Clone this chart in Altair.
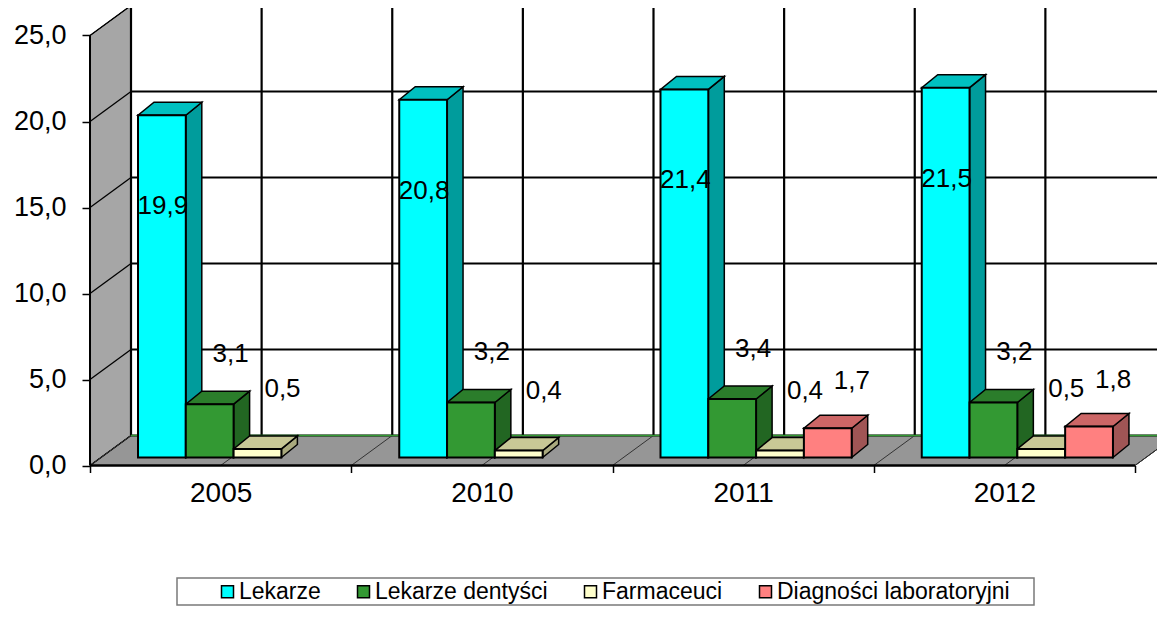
import json
import altair as alt
import pandas as pd

# ---------------- data ----------------
years = ["2005", "2010", "2011", "2012"]
series = ["Lekarze", "Lekarze dentyści", "Farmaceuci", "Diagności laboratoryjni"]
lekarze = [19.9, 20.8, 21.4, 21.5]
dentysci = [3.1, 3.2, 3.4, 3.2]
farmaceuci = [0.5, 0.4, 0.4, 0.5]
diagnosci = [None, None, 1.7, 1.8]
y_ticks = [0, 5, 10, 15, 20, 25]

# ---------------- style ----------------
front_colors = ["#00FFFF", "#339933", "#FFFFCC", "#FF8080"]
top_colors = ["#00C0C0", "#2B7D2B", "#C8C896", "#CC6666"]
side_colors = ["#009C9C", "#226622", "#A9A97E", "#A05555"]
label_dx = [1, 21, 25, 24]
label_dy = [91, -50, -60, -47]
FONT = "Liberation Sans"

W, H = 1149, 598          # whole canvas = plot area
PXU = 261.25              # pixels per category
PXV = 17.2                # pixels per value unit
X0 = 82                   # pixel of the front axis
Y0 = 457.5                # pixel of value 0 on the front plane
DX = 41 / PXU             # depth of walls (x)
DY = 30 / PXV             # depth of walls (y)
BX0 = 48 / PXU            # first bar offset in a category
BW = 47.8 / PXU           # bar width
BY0 = 8 / PXV             # bar base lift
DDX = 16 / PXU            # bar depth (x)
DDY = 13 / PXV            # bar depth (y)
VMAX = y_ticks[-1]
NCAT = len(years)

xs = alt.Scale(domain=[-X0 / PXU, (W - X0) / PXU], nice=False, zero=False)
ys = alt.Scale(domain=[-(H - Y0) / PXV, Y0 / PXV], nice=False, zero=False)

x_axis = alt.Axis(
    values=list(range(NCAT + 1)),
    labelExpr=json.dumps(years).replace('"', "'") + "[datum.value] || ''",
    tickSize=7, tickWidth=1.5, tickColor="black",
    labelOffset=PXU / 2, offset=-(H - Y0), domain=False, grid=False, title=None,
    labelFont=FONT, labelFontSize=28, labelColor="black", labelPadding=7,
    labelOverlap=False, labelFlush=False, labelBound=False,
)
y_axis = alt.Axis(
    values=y_ticks,
    labelExpr="replace(format(datum.value, '.1f'), '.', ',')",
    tickSize=8, tickWidth=1.5, tickColor="black",
    offset=-X0, domain=False, grid=False, title=None,
    labelFont=FONT, labelFontSize=27, labelColor="black", labelPadding=16,
    labelOverlap=False, labelFlush=False, labelBound=False,
)


def X(f):
    return alt.X(f, type="quantitative", scale=xs, axis=x_axis)


def Y(f):
    return alt.Y(f, type="quantitative", scale=ys, axis=y_axis, stack=None)


# ---------------- walls ----------------
side_wall = pd.DataFrame([
    dict(x=0, y=0, y2=VMAX),
    dict(x=DX, y=DY, y2=VMAX + DY),
])
floor = pd.DataFrame([
    dict(x=0, y=0, y2=0),
    dict(x=DX, y=0, y2=DY),
    dict(x=NCAT, y=0, y2=DY),
    dict(x=NCAT + DX, y=DY, y2=DY),
])
back = pd.DataFrame([dict(x=DX, x2=NCAT + DX, y=DY, y2=VMAX + DY)])
hgrid = pd.DataFrame([dict(x=DX, x2=NCAT + DX, y=v + DY, y2=v + DY) for v in y_ticks])
halves = [k / 2 for k in range(2 * NCAT + 1)]
vgrid = pd.DataFrame([dict(x=h + DX, x2=h + DX, y=DY, y2=VMAX + DY) for h in halves])
side_diag = pd.DataFrame([dict(x=0, x2=DX, y=v, y2=v + DY) for v in y_ticks])
floor_diag = pd.DataFrame([dict(x=h, x2=h + DX, y=0, y2=DY) for h in halves])
front_axis = pd.DataFrame([dict(x=0, x2=0, y=0, y2=VMAX)])
front_floor = pd.DataFrame([dict(x=0, x2=NCAT, y=0, y2=0)])
back_floor = pd.DataFrame([dict(x=DX, x2=NCAT + DX, y=DY, y2=DY)])

# ---------------- bars ----------------
rows, tops, sides = [], [], []
for j, (name, vals) in enumerate(zip(series, [lekarze, dentysci, farmaceuci, diagnosci])):
    for i, v in enumerate(vals):
        if v is None:
            continue
        L = i + BX0 + j * BW
        R = L + BW
        t = BY0 + v
        bid = f"{i}-{j}"
        rows.append(dict(id=bid, series=name, j=j, x=L, x2=R, y=BY0, y2=t,
                         cx=(L + R) / 2, label=f"{v:.1f}".replace(".", ",")))
        tops += [
            dict(id=bid, fill=top_colors[j], x=L, y=t, y2=t),
            dict(id=bid, fill=top_colors[j], x=L + DDX, y=t, y2=t + DDY),
            dict(id=bid, fill=top_colors[j], x=R, y=t, y2=t + DDY),
            dict(id=bid, fill=top_colors[j], x=R + DDX, y=t + DDY, y2=t + DDY),
        ]
        sides += [
            dict(id=bid, fill=side_colors[j], x=R, y=BY0, y2=t),
            dict(id=bid, fill=side_colors[j], x=R + DDX, y=BY0 + DDY, y2=t + DDY),
        ]
bars = pd.DataFrame(rows)
tops = pd.DataFrame(tops)
sides = pd.DataFrame(sides)


def rules(df, color="black", width=2.0):
    return alt.Chart(df).mark_rule(color=color, strokeWidth=width, clip=True).encode(
        x=X("x"), x2="x2", y=Y("y"), y2="y2")


layers = [
    alt.Chart(side_wall).mark_area(fill="#A6A6A6", stroke="black", strokeWidth=1, clip=True)
    .encode(x=X("x"), y=Y("y"), y2="y2"),
    alt.Chart(floor).mark_area(fill="#969696", stroke="black", strokeWidth=1, clip=True)
    .encode(x=X("x"), y=Y("y"), y2="y2"),
    alt.Chart(back).mark_rect(fill="white", clip=True)
    .encode(x=X("x"), x2="x2", y=Y("y"), y2="y2"),
    rules(hgrid, width=2.2),
    rules(vgrid, width=2.2),
    rules(side_diag, width=1.3),
    rules(floor_diag, color="#333333", width=1.0),
    rules(back_floor, color="#339933", width=1.5),
    rules(front_axis, width=2),
    rules(front_floor, width=2.5),
    alt.Chart(sides).mark_area(stroke="black", strokeWidth=1.5, interpolate="linear")
    .encode(x=X("x"), y=Y("y"), y2="y2", detail="id:N", fill=alt.Fill("fill:N", scale=None)),
    alt.Chart(tops).mark_area(stroke="black", strokeWidth=1.5, interpolate="linear")
    .encode(x=X("x"), y=Y("y"), y2="y2", detail="id:N", fill=alt.Fill("fill:N", scale=None)),
    alt.Chart(pd.DataFrame([{"k": 0}])).mark_rect(fill="white", stroke="#7A7A7A", strokeWidth=1.5)
    .encode(x=alt.value(169), x2=alt.value(1026), y=alt.value(570), y2=alt.value(597)),
    alt.Chart(bars).mark_rect(stroke="black", strokeWidth=2)
    .encode(
        x=X("x"), x2="x2", y=Y("y"), y2="y2",
        color=alt.Color(
            "series:N",
            scale=alt.Scale(domain=series, range=front_colors),
            legend=alt.Legend(
                title=None, orient="none", legendX=208, legendY=572,
                direction="horizontal", symbolType="square", symbolSize=144,
                symbolStrokeColor="black", symbolStrokeWidth=1.5,
                labelFont=FONT, labelFontSize=23, labelColor="black",
                labelOffset=0, columnPadding=31, padding=0, labelLimit=0,
            ),
        ),
    ),
]
for j in range(len(series)):
    layers.append(
        alt.Chart(bars).transform_filter(alt.datum.j == j)
        .mark_text(font=FONT, fontSize=26, color="black", align="center",
                   baseline="middle", dx=label_dx[j], dy=label_dy[j])
        .encode(x=X("cx"), y=Y("y2"), text="label:N")
    )

chart = (
    alt.layer(*layers)
    .properties(width=W, height=H, padding=0, autosize=alt.AutoSizeParams(type="none"),
                background="white")
    .configure_view(stroke=None)
)

chart.save("out.html", embed_options={"renderer": "svg", "actions": False})
